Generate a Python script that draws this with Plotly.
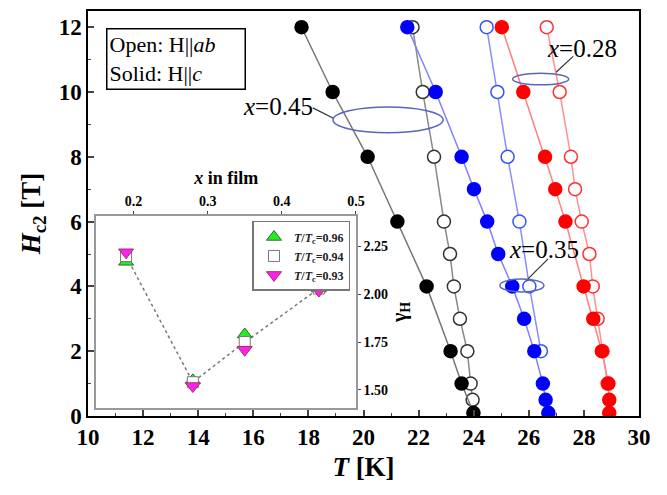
import plotly.graph_objects as go

# ---- main panel data: H (T) vs T (K) ----
H_045_c = [12, 10, 8, 6, 4, 2, 1, 0.1]
T_045_c = [17.75, 18.88, 20.15, 21.23, 22.29, 23.16, 23.56, 23.99]
H_045_ab = [12, 10, 8, 6, 5, 4, 3, 2, 1, 0.5]
T_045_ab = [21.78, 22.15, 22.56, 22.92, 23.14, 23.28, 23.50, 23.77, 23.89, 23.96]

H_035_c = [12, 10, 8, 7, 6, 5, 4, 3, 2, 1, 0.5, 0.1]
T_035_c = [21.59, 22.62, 23.56, 24.01, 24.49, 24.89, 25.40, 25.83, 26.20, 26.51, 26.61, 26.71]
H_035_ab = [12, 10, 8, 6, 4, 2]
T_035_ab = [24.47, 24.86, 25.23, 25.66, 26.02, 26.44]

H_028_c = [12, 10, 8, 7, 6, 4, 3, 2, 1, 0.5, 0.1]
T_028_c = [25.02, 25.80, 26.59, 26.96, 27.33, 27.99, 28.34, 28.65, 28.89, 28.92, 28.92]
H_028_ab = [12, 10, 8, 7, 6, 5, 4, 3, 2, 1]
T_028_ab = [26.65, 27.12, 27.53, 27.68, 27.92, 28.20, 28.32, 28.50, 28.68, 28.86]

# ---- inset data: gamma_H vs x in film ----
x_film = [0.19, 0.28, 0.35, 0.45]
gamma_096 = [2.17, 1.55, 1.79, 2.03]
gamma_094 = [2.20, 1.54, 1.75, 2.03]
gamma_093 = [2.22, 1.52, 1.71, 2.02]

SERIF = "Liberation Serif"
fig = go.Figure()

def add_series(T, H, color, linecolor, filled):
    fig.add_trace(go.Scatter(
        x=T, y=H, mode="lines+markers",
        line=dict(color=linecolor, width=1.5),
        marker=dict(symbol="circle", size=13,
                    color=color if filled else "white",
                    line=dict(color=color, width=1.5)),
        showlegend=False, xaxis="x", yaxis="y"))

add_series(T_045_ab, H_045_ab, "#333333", "#888888", False)
add_series(T_035_ab, H_035_ab, "#3355ff", "#8c8cff", False)
add_series(T_028_ab, H_028_ab, "#ff3030", "#ff9090", False)
add_series(T_045_c, H_045_c, "#000000", "#777777", True)
add_series(T_035_c, H_035_c, "#0000ff", "#8080ff", True)
add_series(T_028_c, H_028_c, "#ff0000", "#ff8080", True)

# inset
fig.add_trace(go.Scatter(x=x_film, y=gamma_094, mode="lines",
                         line=dict(color="#777777", width=1.5, dash="dot"),
                         showlegend=False, xaxis="x2", yaxis="y2"))
fig.add_trace(go.Scatter(x=x_film, y=gamma_096, mode="markers", name="<b><i>T</i>/<i>T</i><sub>c</sub>=0.96</b>",
                         marker=dict(symbol="triangle-up", size=13, color="#22ee22",
                                     line=dict(color="#336633", width=1)),
                         xaxis="x2", yaxis="y2"))
fig.add_trace(go.Scatter(x=x_film, y=gamma_094, mode="markers", name="<b><i>T</i>/<i>T</i><sub>c</sub>=0.94</b>",
                         marker=dict(symbol="square", size=11, color="white",
                                     line=dict(color="#777777", width=1)),
                         xaxis="x2", yaxis="y2"))
fig.add_trace(go.Scatter(x=x_film, y=gamma_093, mode="markers", name="<b><i>T</i>/<i>T</i><sub>c</sub>=0.93</b>",
                         marker=dict(symbol="triangle-down", size=13, color="#ff22ee",
                                     line=dict(color="#993366", width=1)),
                         xaxis="x2", yaxis="y2"))

# ellipses and leader lines
ell_col = "#5a66b8"
shapes = [
    dict(type="circle", xref="x", yref="y", x0=18.89, x1=22.89, y0=8.74, y1=9.54,
         line=dict(color=ell_col, width=1.5)),
    dict(type="circle", xref="x", yref="y", x0=25.41, x1=27.45, y0=10.22, y1=10.58,
         line=dict(color=ell_col, width=1.5)),
    dict(type="circle", xref="x", yref="y", x0=24.95, x1=26.55, y0=3.83, y1=4.23,
         line=dict(color=ell_col, width=1.5)),
    dict(type="line", xref="x", yref="y", x0=18.16, y0=9.51, x1=18.89, y1=9.20,
         line=dict(color="#333333", width=1.2)),
    dict(type="line", xref="x", yref="y", x0=26.99, y0=10.61, x1=27.61, y1=11.10,
         line=dict(color="#333333", width=1.2)),
    dict(type="line", xref="x", yref="y", x0=25.97, y0=4.23, x1=26.70, y1=4.85,
         line=dict(color="#333333", width=1.2)),
]

PW = 550.7  # plot width px
PH = 407.0  # plot height px
annotations = [
    dict(text="<i>x</i>=0.45", x=16.9, y=9.54, xref="x", yref="y", showarrow=False,
         font=dict(family=SERIF, size=25, color="black")),
    dict(text="<i>x</i>=0.28", x=27.93, y=11.35, xref="x", yref="y", showarrow=False,
         font=dict(family=SERIF, size=25, color="black")),
    dict(text="<i>x</i>=0.35", x=26.55, y=5.15, xref="x", yref="y", showarrow=False,
         font=dict(family=SERIF, size=25, color="black")),
    dict(text="Open: H||<i>ab</i><br>Solid: H||<i>c</i>", x=(176 - 88.3) / PW,
         y=(415 - 56.5) / PH, xref="paper", yref="paper", showarrow=False,
         xanchor="center", yanchor="middle", width=133, height=55,
         align="left", bordercolor="black", borderwidth=1.5, borderpad=2, bgcolor="white",
         font=dict(family=SERIF, size=22, color="black")),
]

fig.update_layout(
    width=667, height=495,
    margin=dict(l=80, r=36, t=1, b=87),
    paper_bgcolor="white", plot_bgcolor="white",
    font=dict(family=SERIF, color="black"),
    shapes=shapes, annotations=annotations,
    xaxis=dict(range=[10, 30], dtick=2, tick0=10, ticks="inside", ticklen=6, tickwidth=1.5,
               minor=dict(dtick=1, ticks="inside", ticklen=3, tickwidth=1.2),
               showline=True, linecolor="black", linewidth=1.5, mirror=True,
               showgrid=False, zeroline=False,
               tickfont=dict(family=SERIF, size=23, weight="bold"),
               title=dict(text="<b><i>T</i> [K]</b>", font=dict(family=SERIF, size=27), standoff=8)),
    yaxis=dict(range=[0, 12.5], dtick=2, tick0=0, ticks="inside", ticklen=6, tickwidth=1.5,
               minor=dict(dtick=1, ticks="inside", ticklen=3, tickwidth=1.2),
               showline=True, linecolor="black", linewidth=1.5, mirror=True,
               showgrid=False, zeroline=False,
               tickfont=dict(family=SERIF, size=23, weight="bold"),
               title=dict(text="<b><i>H</i><sub>c2</sub> [T]</b>", font=dict(family=SERIF, size=27), standoff=10)),
    xaxis2=dict(domain=[0.0153, 0.4863], range=[0.15, 0.5], anchor="y2", side="top",
                dtick=0.1, tick0=0.2, tickformat=".1f", ticks="outside", ticklen=3,
                showline=True, linecolor="#999999", linewidth=1.5, mirror=True,
                showgrid=False, zeroline=False,
                tickfont=dict(family=SERIF, size=14, weight="bold"),
                title=dict(text="<b><i>x</i> in film</b>", font=dict(family=SERIF, size=18), standoff=4)),
    yaxis2=dict(domain=[0.0197, 0.4939], range=[1.405, 2.41], anchor="x2", side="right",
                dtick=0.25, tick0=1.5, tickformat=".2f", ticks="outside", ticklen=3,
                showline=True, linecolor="#999999", linewidth=1.5, mirror=True,
                showgrid=False, zeroline=False,
                tickfont=dict(family=SERIF, size=14, weight="bold"),
                title=dict(text="<b>γ<sub>H</sub></b>", font=dict(family=SERIF, size=20), standoff=4)),
    legend=dict(x=(252.7 - 88.3) / PW, y=(415 - 219) / PH, xanchor="left", yanchor="top",
                bgcolor="white", bordercolor="#777777", borderwidth=1.5,
                font=dict(family=SERIF, size=12, color="#222222"),
                tracegroupgap=0, itemwidth=30),
)

fig.write_html("out.html")
